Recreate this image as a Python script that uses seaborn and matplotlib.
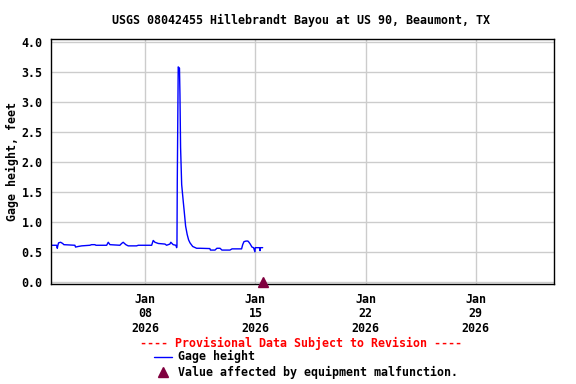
"""
USGS gage height chart - Hillebrandt Bayou at US 90, Beaumont, TX
"""

import matplotlib
matplotlib.use('Agg')
import matplotlib.pyplot as plt
import seaborn as sns
import pandas as pd

# Data: days after 2026-01-02 00:00 and gage height (ft)
start_date = '2026-01-02'
day_offsets = [
    0.04, 0.36, 0.40, 0.44, 0.48, 0.61, 0.74, 0.82, 1.52, 1.56, 1.73, 1.95,
    2.47, 2.58, 2.79, 2.86, 3.54, 3.64, 3.75, 4.38, 4.49, 4.59, 4.76, 4.91,
    5.44, 5.55, 6.40, 6.50, 6.61, 6.82, 7.25, 7.35, 7.56, 7.62, 7.77, 7.94,
    7.99, 8.01, 8.03, 8.09, 8.17, 8.20, 8.24, 8.31, 8.41, 8.47, 8.56, 8.66,
    8.75, 8.84, 9.01, 9.26, 9.47, 10.10, 10.14, 10.43, 10.55, 10.75, 10.87,
    11.38, 11.51, 12.12, 12.19, 12.27, 12.40, 12.52, 12.59, 12.67, 12.78,
    12.88, 12.97, 12.99, 13.26, 13.29, 13.31, 13.46,
]
gage_height = [
    0.61, 0.61, 0.56, 0.61, 0.65, 0.66, 0.64, 0.62, 0.61, 0.58, 0.59, 0.60,
    0.61, 0.62, 0.62, 0.61, 0.61, 0.66, 0.62, 0.61, 0.64, 0.66, 0.62, 0.60,
    0.60, 0.61, 0.61, 0.69, 0.66, 0.64, 0.63, 0.61, 0.63, 0.66, 0.62, 0.61,
    0.57, 0.60, 1.65, 3.58, 3.56, 3.13, 2.24, 1.62, 1.34, 1.18, 0.93, 0.79,
    0.70, 0.65, 0.59, 0.56, 0.56, 0.555, 0.53, 0.53, 0.56, 0.56, 0.53,
    0.53, 0.55, 0.55, 0.62, 0.67, 0.68, 0.68, 0.66, 0.63, 0.58,
    0.57, 0.50, 0.57, 0.57, 0.52, 0.57, 0.57,
]

# Equipment malfunction flag
flag_offsets = [13.50]
flag_values = [0.0]

x_range = ['2026-01-02', '2026-02-03']
y_ticks = [0.0, 0.5, 1.0, 1.5, 2.0, 2.5, 3.0, 3.5, 4.0]
x_ticks = ['2026-01-08', '2026-01-15', '2026-01-22', '2026-01-29']

title = 'USGS 08042455 Hillebrandt Bayou at US 90, Beaumont, TX'

t0 = pd.Timestamp(start_date)
df = pd.DataFrame({
    'time': t0 + pd.to_timedelta(day_offsets, unit='D'),
    'gage': gage_height,
})
flags = pd.DataFrame({
    'time': t0 + pd.to_timedelta(flag_offsets, unit='D'),
    'value': flag_values,
})

sns.set_theme(style='white')
plt.rcParams['font.family'] = ['DejaVu Sans Mono']
plt.rcParams['font.weight'] = 'bold'
plt.rcParams['text.color'] = 'black'
plt.rcParams['axes.labelcolor'] = 'black'
plt.rcParams['xtick.color'] = 'black'
plt.rcParams['ytick.color'] = 'black'
fs = 8.4

fig = plt.figure(figsize=(5.76, 3.84), dpi=100)
ax = fig.add_axes([51 / 576, 1 - 284.3 / 384, 503.2 / 576, 245 / 384])

sns.lineplot(data=df, x='time', y='gage', ax=ax, color='#0000ff', linewidth=1.0)
ax.plot(flags['time'], flags['value'], linestyle='none', marker='^',
        color='#80003f', markersize=7.5, clip_on=False, zorder=5)

ax.set_xlim(pd.Timestamp(x_range[0]), pd.Timestamp(x_range[1]))
ax.set_ylim(-0.04, 4.04)
ax.set_yticks(y_ticks)
ax.set_yticklabels([f'{v:.1f}' for v in y_ticks], fontsize=fs, fontweight='bold')
xt = pd.to_datetime(x_ticks)
ax.set_xticks(xt)
ax.set_xticklabels([d.strftime('%b\n%d\n%Y') for d in xt], fontsize=fs,
                   fontweight='bold', linespacing=1.15)
ax.tick_params(axis='both', length=0, pad=6, colors='black')
ax.grid(True, color='#cccccc', linewidth=1.0)
for s in ax.spines.values():
    s.set_color('black')
    s.set_linewidth(1.0)

ax.set_xlabel('')
ax.set_ylabel('Gage height, feet', fontsize=fs, fontweight='bold', labelpad=2)

fig.text(0.5 + 13 / 576, 1 - 20 / 384, title, ha='center', va='center',
         fontsize=fs, fontweight='bold')

# Legend area below the plot
fig.text(301 / 576, 1 - 343 / 384,
         '---- Provisional Data Subject to Revision ----',
         ha='center', va='center', color='#ff0000', fontsize=fs, fontweight='bold')
fig.add_artist(plt.Line2D([154 / 576, 172 / 576], [1 - 356.5 / 384] * 2,
                          color='#0000ff', linewidth=1.0))
fig.text(178 / 576, 1 - 356 / 384, 'Gage height', ha='left', va='center',
         fontsize=fs, fontweight='bold')
fig.add_artist(plt.Line2D([163.3 / 576], [1 - 371.5 / 384], marker='^',
                          color='#80003f', markersize=7.5, linestyle='none'))
fig.text(178 / 576, 1 - 372 / 384, 'Value affected by equipment malfunction.',
         ha='left', va='center', fontsize=fs, fontweight='bold')

plt.savefig('out.png', dpi=100)
plt.close()
